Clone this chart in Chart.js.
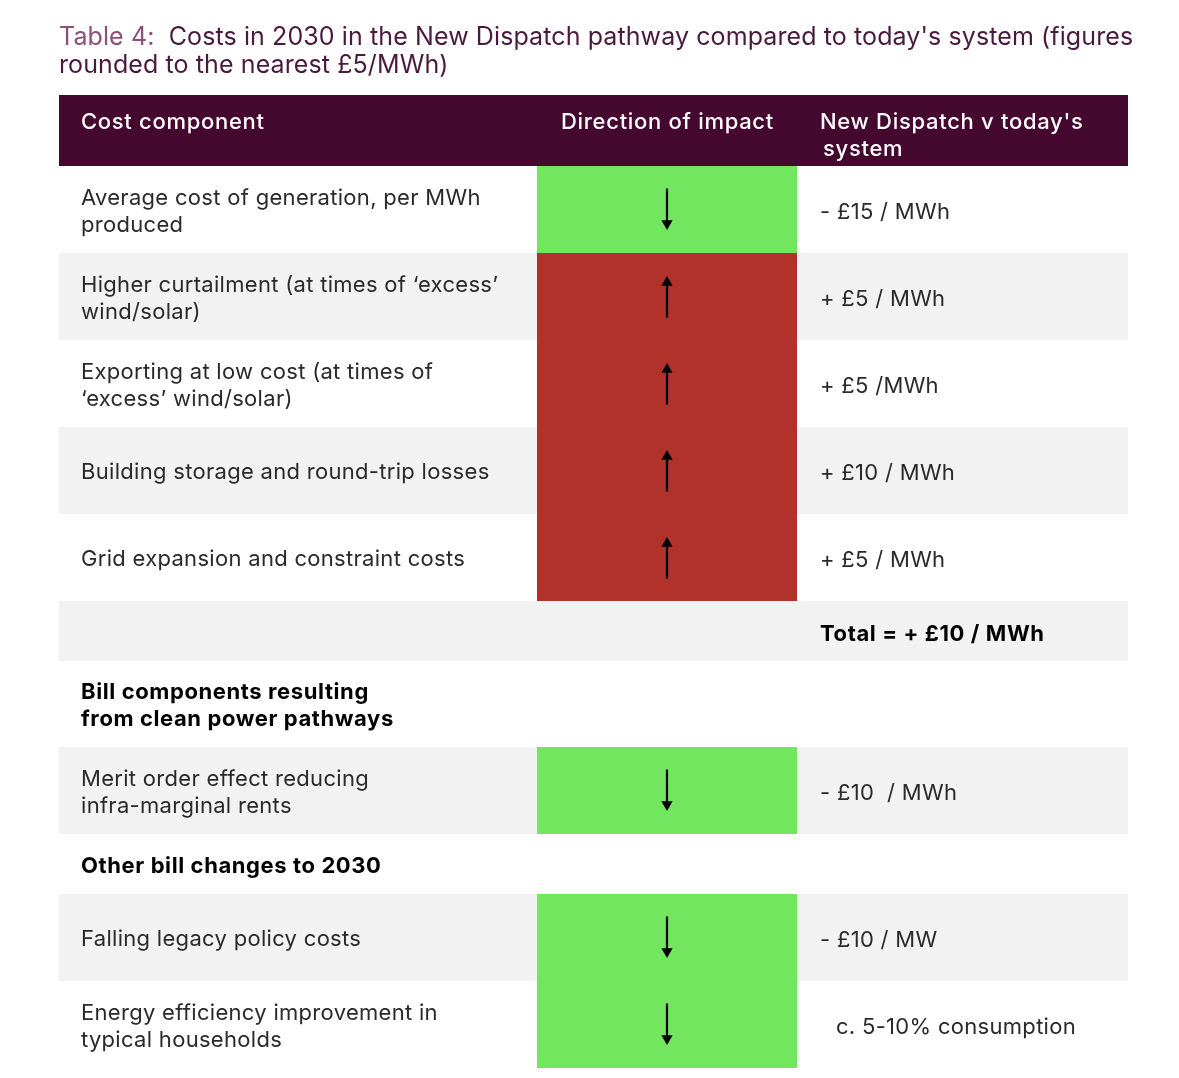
<!DOCTYPE html>
<html>
<head>
<meta charset="utf-8">
<script src="https://cdn.jsdelivr.net/npm/chart.js@4.4.1/dist/chart.umd.min.js"></script>
<style>
  html, body { margin: 0; padding: 0; background: #fff; }
  #wrap { width: 1179px; height: 1078px; }
</style>
</head>
<body>
<div id="wrap"><canvas id="cost-table"></canvas></div>
<script>
// ---- table content ----
const titlePrefix = 'Table 4:';
const titleLines = [
  "  Costs in 2030 in the New Dispatch pathway compared to today's system (figures",
  'rounded to the nearest £5/MWh)'
];
const headers = ['Cost component', 'Direction of impact', "New Dispatch v today's\nsystem"];
const rowKinds = ['item', 'item', 'item', 'item', 'item', 'total', 'section', 'item', 'section', 'item', 'item'];
const components = [
  'Average cost of generation, per MWh\nproduced',
  'Higher curtailment (at times of \u2018excess\u2019\nwind/solar)',
  'Exporting at low cost (at times of\n\u2018excess\u2019 wind/solar)',
  'Building storage and round-trip losses',
  'Grid expansion and constraint costs',
  '',
  'Bill components resulting\nfrom clean power pathways',
  'Merit order effect reducing\ninfra-marginal rents',
  'Other bill changes to 2030',
  'Falling legacy policy costs',
  'Energy efficiency improvement in\ntypical households'
];
const directions = ['down', 'up', 'up', 'up', 'up', '', '', 'down', '', 'down', 'down'];
const impacts = [
  '- £15 / MWh', '+ £5 / MWh', '+ £5 /MWh', '+ £10 / MWh', '+ £5 / MWh',
  'Total = + £10 / MWh', '', '- £10  / MWh', '', '- £10 / MW', 'c. 5-10% consumption'
];

// ---- layout / style ----
const colEdges = [0, 478, 738, 1069];
const HEADER_H = 71;
function rowHeight(i) {
  const k = rowKinds[i];
  if (k === 'item') return 87;
  if (k === 'total') return 60;
  return components[i].includes('\n') ? 86 : 60;
}
const rowTops = [];
let acc = HEADER_H;
rowKinds.forEach((k, i) => { rowTops.push(acc); acc += rowHeight(i); });
const TABLE_H = acc;

const C = {
  header: '#45092f', gray: '#f2f2f2', up: '#b0322b', down: '#72e65e',
  text: '#2a2a2a', title: '#4a1a3e', titleLight: '#8b4f7d'
};
const FONT = 'Inter, "Noto Sans", sans-serif';
const grayRows = new Set([1, 3, 5, 7, 9]);

function rect(x0, x1, y0, y1, color, order) {
  return {
    type: 'line', data: [{x: x0, y: y0}, {x: x1, y: y0}],
    fill: {value: y1}, backgroundColor: color, borderColor: 'transparent',
    borderWidth: 0, pointRadius: 0, order
  };
}

const datasets = [];
datasets.push(rect(colEdges[0], colEdges[3], 0, HEADER_H, C.header, 3));
rowKinds.forEach((k, i) => {
  const top = rowTops[i], bot = top + rowHeight(i);
  if (grayRows.has(i)) datasets.push(rect(colEdges[0], colEdges[3], top, bot, C.gray, 3));
  const d = directions[i];
  if (d) {
    datasets.push(rect(colEdges[1], colEdges[2], top, bot, C[d], 2));
    const mid = (colEdges[1] + colEdges[2]) / 2;
    const cy = top + rowHeight(i) / 2;
    const pts = d === 'down'
      ? [{x: mid, y: cy - 21}, {x: mid, y: cy + 14}]
      : [{x: mid, y: cy + 21}, {x: mid, y: cy - 14}];
    datasets.push({
      type: 'line', data: pts, borderColor: '#000', borderWidth: 2.2,
      pointRadius: [0, 6.5], pointStyle: 'triangle', rotation: d === 'down' ? 180 : 0,
      pointBackgroundColor: '#000', pointBorderWidth: 0, fill: false, order: 1
    });
  }
});

const tableText = {
  id: 'tableText',
  afterDatasetsDraw(chart) {
    const {ctx, chartArea, scales: {x, y}} = chart;
    ctx.save();
    ctx.textBaseline = 'middle';
    ctx.textAlign = 'left';

    // title
    ctx.font = '400 25px ' + FONT;
    ctx.letterSpacing = '0.1px';
    ctx.fillStyle = C.titleLight;
    ctx.fillText(titlePrefix, chartArea.left, chartArea.top - 58);
    const pw = ctx.measureText(titlePrefix).width;
    ctx.fillStyle = C.title;
    ctx.fillText(titleLines[0], chartArea.left + pw, chartArea.top - 58);
    ctx.fillText(titleLines[1], chartArea.left, chartArea.top - 30);

    // header
    ctx.font = '500 22px ' + FONT;
    ctx.letterSpacing = '0.7px';
    ctx.fillStyle = '#fff';
    const hx = [22, 24, 23];
    headers.forEach((h, c) => {
      h.split('\n').forEach((ln, j) => {
        ctx.fillText(ln, x.getPixelForValue(colEdges[c] + hx[c]) + j * 3, y.getPixelForValue(27 + j * 27));
      });
    });

    // body
    rowKinds.forEach((k, i) => {
      const cy = y.getPixelForValue(rowTops[i] + rowHeight(i) / 2) + 2;
      const bold = k !== 'item';
      ctx.fillStyle = bold ? '#000' : C.text;
      ctx.font = (bold ? '700 ' : '400 ') + '22px ' + FONT;
      ctx.letterSpacing = bold ? '0.6px' : '0.3px';
      const lines = components[i] ? components[i].split('\n') : [];
      lines.forEach((ln, j) => {
        ctx.fillText(ln, x.getPixelForValue(colEdges[0] + 22), cy + (j - (lines.length - 1) / 2) * 27);
      });
      if (impacts[i]) {
        const indent = i === 10 ? 39 : 23;
        ctx.fillText(impacts[i], x.getPixelForValue(colEdges[2] + indent), cy + 1);
      }
    });
    ctx.restore();
  }
};

new Chart(document.querySelector('#cost-table'), {
  type: 'line',
  data: {datasets},
  options: {
    responsive: true,
    maintainAspectRatio: false,
    animation: false,
    events: [],
    layout: {padding: {left: 59, right: 51, top: 95, bottom: 10}},
    scales: {
      x: {type: 'linear', min: 0, max: colEdges[3], display: false},
      y: {type: 'linear', min: 0, max: TABLE_H, reverse: true, display: false}
    },
    plugins: {legend: {display: false}, tooltip: {enabled: false}}
  },
  plugins: [tableText]
});
</script>
</body>
</html>
